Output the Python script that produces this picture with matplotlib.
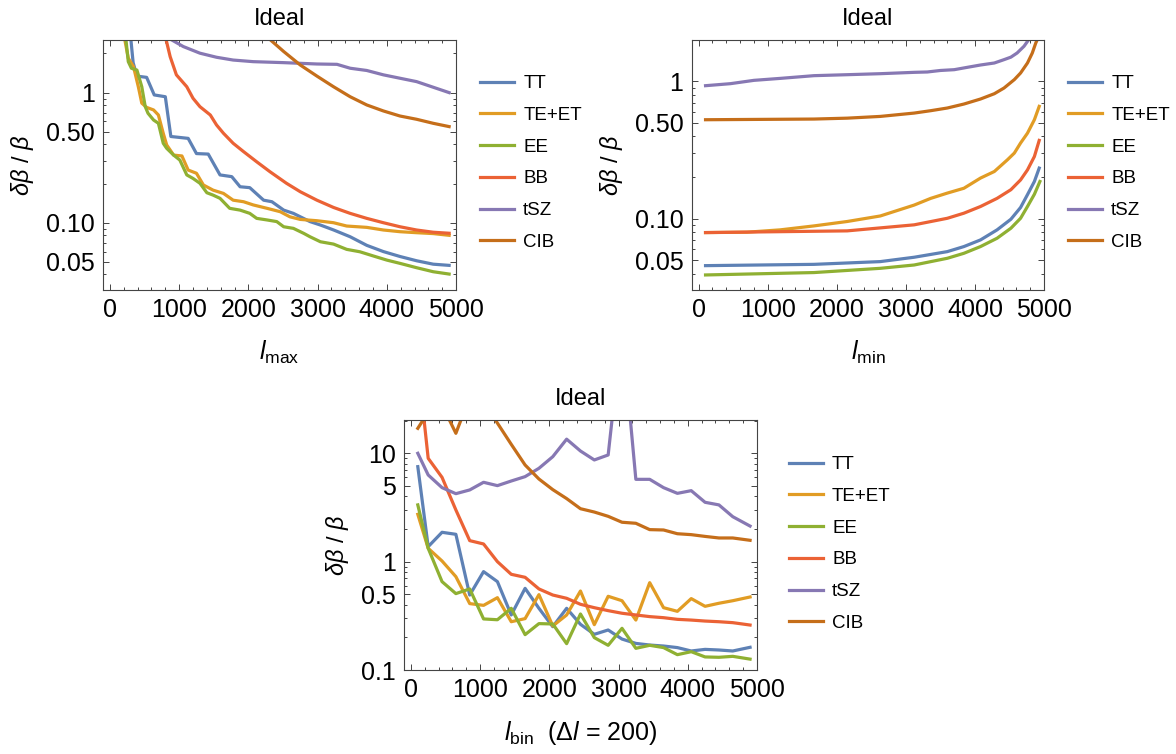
import matplotlib
matplotlib.use('Agg')
from matplotlib import pyplot as plt
from matplotlib.ticker import FixedLocator, NullFormatter

plt.rcParams['font.family'] = ['Liberation Sans', 'DejaVu Sans']
plt.rcParams['mathtext.fontset'] = 'custom'
plt.rcParams['mathtext.rm'] = 'Liberation Sans'
plt.rcParams['mathtext.it'] = 'Liberation Sans:italic'

labels = ['TT', 'TE+ET', 'EE', 'BB', 'tSZ', 'CIB']
colors = ['#5E81B5', '#E19C24', '#8FB032', '#EB6235', '#8778B3', '#C56E1A']

# ---- panel 1: varying l_max ----
tt_lmax_x = [290, 335, 390, 530, 640, 800, 880, 1130, 1250, 1420, 1590, 1760, 1880, 2020, 2220, 2340,
             2510, 2650, 2890, 3040, 3230, 3470, 3710, 3950, 4190, 4430, 4670, 4900]
tt_lmax_y = [3.0, 1.7, 1.34, 1.31, 0.96, 0.93, 0.46, 0.445, 0.34, 0.337, 0.233, 0.226, 0.189, 0.186, 0.149,
             0.145, 0.125, 0.118, 0.102, 0.096, 0.088, 0.078, 0.067, 0.060, 0.055, 0.051, 0.048, 0.047]
te_lmax_x = [195, 265, 340, 410, 460, 530, 630, 700, 770, 820, 920, 1040, 1130, 1250, 1350, 1490, 1640,
             1780, 1930, 2070, 2270, 2460, 2600, 2750, 2990, 3230, 3420, 3710, 3950, 4190, 4430, 4670, 4900]
te_lmax_y = [2.9, 1.84, 1.585, 1.11, 0.83, 0.77, 0.736, 0.673, 0.487, 0.396, 0.331, 0.326, 0.254, 0.240,
             0.195, 0.178, 0.168, 0.149, 0.145, 0.137, 0.129, 0.1215, 0.111, 0.106, 0.1036, 0.100, 0.0943,
             0.0921, 0.0879, 0.0853, 0.0838, 0.0825, 0.080]
ee_lmax_x = [220, 265, 310, 390, 460, 510, 550, 630, 700, 770, 820, 920, 1010, 1110, 1200, 1300, 1400,
             1490, 1590, 1730, 1880, 2020, 2120, 2270, 2410, 2510, 2650, 2800, 2890, 3040, 3230, 3420,
             3610, 3810, 4000, 4190, 4430, 4670, 4900]
ee_lmax_y = [2.9, 1.73, 1.54, 1.49, 1.11, 0.78, 0.694, 0.616, 0.581, 0.408, 0.373, 0.331, 0.303, 0.233,
             0.219, 0.201, 0.170, 0.163, 0.154, 0.129, 0.125, 0.118, 0.108, 0.105, 0.102, 0.0931, 0.0905,
             0.0828, 0.078, 0.0714, 0.0685, 0.0624, 0.0598, 0.0554, 0.0516, 0.0487, 0.0451, 0.042, 0.0403]
bb_lmax_x = [800, 870, 960, 1110, 1200, 1300, 1450, 1540, 1640, 1780, 1930, 2120, 2310, 2550, 2750, 2990,
             3230, 3470, 3710, 3950, 4190, 4430, 4670, 4900]
bb_lmax_y = [2.7, 1.89, 1.37, 1.11, 0.905, 0.78, 0.673, 0.564, 0.487, 0.408, 0.352, 0.294, 0.247, 0.201,
             0.173, 0.149, 0.131, 0.118, 0.108, 0.100, 0.0931, 0.0879, 0.0845, 0.083]
tsz_lmax_x = [860, 1060, 1300, 1540, 1780, 2070, 2510, 2990, 3280, 3470, 3710, 3950, 4190, 4430, 4670, 4900]
tsz_lmax_y = [2.6, 2.26, 2.01, 1.87, 1.78, 1.73, 1.70, 1.66, 1.65, 1.54, 1.48, 1.37, 1.29, 1.215, 1.10, 1.0]
cib_lmax_x = [2280, 2510, 2750, 2990, 3230, 3470, 3710, 3950, 4190, 4430, 4670, 4900]
cib_lmax_y = [2.65, 2.07, 1.63, 1.34, 1.11, 0.93, 0.804, 0.723, 0.661, 0.624, 0.581, 0.548]

# ---- panel 2: varying l_min ----
tt_lmin_x = [100, 1670, 2630, 3120, 3600, 3840, 4080, 4320, 4520, 4660, 4760, 4860, 4930]
tt_lmin_y = [0.0457, 0.0467, 0.0489, 0.0526, 0.0578, 0.0629, 0.0703, 0.0832, 0.0994, 0.121, 0.150, 0.187, 0.234]
te_lmin_x = [100, 700, 1180, 1670, 2150, 2630, 3120, 3360, 3600, 3840, 4080, 4280, 4470, 4570, 4660, 4760,
             4860, 4930]
te_lmin_y = [0.0795, 0.080, 0.0832, 0.0889, 0.0957, 0.105, 0.126, 0.141, 0.154, 0.167, 0.198, 0.221, 0.269,
             0.301, 0.356, 0.42, 0.526, 0.658]
ee_lmin_x = [100, 1670, 2630, 3120, 3600, 3840, 4080, 4320, 4520, 4660, 4760, 4860, 4940]
ee_lmin_y = [0.0391, 0.0407, 0.0437, 0.0462, 0.0517, 0.0562, 0.0629, 0.0723, 0.0855, 0.101, 0.123, 0.151, 0.187]
bb_lmin_x = [100, 2150, 3120, 3600, 3840, 4080, 4320, 4520, 4660, 4760, 4860, 4930]
bb_lmin_y = [0.0795, 0.0818, 0.0905, 0.101, 0.110, 0.123, 0.141, 0.163, 0.192, 0.227, 0.284, 0.372]
tsz_lmin_x = [100, 460, 800, 1180, 1670, 2150, 2630, 3120, 3310, 3500, 3700, 3890, 4080, 4280, 4420, 4520,
              4610, 4710, 4790]
tsz_lmin_y = [0.93, 0.962, 1.017, 1.051, 1.10, 1.118, 1.137, 1.163, 1.17, 1.20, 1.216, 1.265, 1.315, 1.36,
              1.438, 1.50, 1.608, 1.80, 2.05]
cib_lmin_x = [100, 1670, 2150, 2630, 3120, 3360, 3600, 3840, 4080, 4280, 4420, 4570, 4660, 4760, 4830, 4880, 4910]
cib_lmin_y = [0.526, 0.532, 0.54, 0.556, 0.588, 0.612, 0.64, 0.684, 0.744, 0.813, 0.894, 1.03, 1.15, 1.36,
              1.608, 1.90, 2.05]

# ---- panel 3: binned, delta l = 200 ----
l_bin = [100, 250, 450, 650, 850, 1050, 1250, 1450, 1650, 1850, 2050, 2250, 2450, 2650, 2850, 3050,
         3250, 3450, 3650, 3850, 4050, 4250, 4450, 4650, 4900]
tt_bin = [7.53, 1.375, 1.866, 1.788, 0.492, 0.809, 0.654, 0.322, 0.567, 0.371, 0.251, 0.371, 0.264,
          0.2135, 0.234, 0.193, 0.176, 0.170, 0.1665, 0.161, 0.1498, 0.155, 0.153, 0.1498, 0.162]
te_bin = [2.735, 1.328, 1.014, 0.727, 0.41, 0.395, 0.465, 0.279, 0.298, 0.496, 0.255, 0.322, 0.536,
          0.262, 0.479, 0.436, 0.289, 0.64, 0.376, 0.348, 0.456, 0.387, 0.413, 0.436, 0.472]
ee_bin = [3.34, 1.328, 0.654, 0.507, 0.56, 0.296, 0.291, 0.371, 0.212, 0.268, 0.266, 0.175, 0.329,
          0.199, 0.169, 0.2425, 0.1585, 0.169, 0.161, 0.1385, 0.1476, 0.132, 0.131, 0.1337, 0.126]
bb_bin = [70, 8.99, 6.0, 3.0, 1.563, 1.456, 1.0, 0.764, 0.717, 0.56, 0.492, 0.459, 0.404, 0.376, 0.353,
          0.334, 0.322, 0.311, 0.304, 0.2935, 0.289, 0.283, 0.279, 0.2735, 0.26]
tsz_bin = [10.0, 6.31, 4.82, 4.24, 4.59, 5.40, 5.03, 5.55, 6.09, 7.27, 9.31, 13.5, 10.5, 8.68, 9.65, 140,
           5.75, 5.75, 4.82, 4.27, 4.52, 3.53, 3.34, 2.60, 2.13]
cib_bin = [17.0, 24, 28, 15.3, 33, 30, 19.0, 12.1, 7.8, 5.79, 4.62, 3.82, 3.08, 2.87, 2.62, 2.31, 2.26,
           1.975, 1.96, 1.81, 1.775, 1.71, 1.654, 1.654, 1.574]

panels = [
    dict(rect=[0.0876, 0.6154, 0.3002, 0.3316], ylim=(0.0304, 2.54),
         major=[0.05, 0.1, 0.5, 1], majlab=['0.05', '0.10', '0.50', '1'],
         minor=[0.03, 0.04, 0.06, 0.07, 0.08, 0.09, 0.2, 0.3, 0.4, 0.6, 0.7, 0.8, 0.9, 2],
         xlabel=r'$\mathit{l}_{\mathrm{max}}$',
         series=[(tt_lmax_x, tt_lmax_y), (te_lmax_x, te_lmax_y), (ee_lmax_x, ee_lmax_y),
                 (bb_lmax_x, bb_lmax_y), (tsz_lmax_x, tsz_lmax_y), (cib_lmax_x, cib_lmax_y)],
         leg=(480, 75)),
    dict(rect=[0.5882, 0.6154, 0.2996, 0.3316], ylim=(0.0304, 2.0),
         major=[0.05, 0.1, 0.5, 1], majlab=['0.05', '0.10', '0.50', '1'],
         minor=[0.03, 0.04, 0.06, 0.07, 0.08, 0.09, 0.2, 0.3, 0.4, 0.6, 0.7, 0.8, 0.9],
         xlabel=r'$\mathit{l}_{\mathrm{min}}$',
         series=[(tt_lmin_x, tt_lmin_y), (te_lmin_x, te_lmin_y), (ee_lmin_x, ee_lmin_y),
                 (bb_lmin_x, bb_lmin_y), (tsz_lmin_x, tsz_lmin_y), (cib_lmin_x, cib_lmin_y)],
         leg=(1068, 75)),
    dict(rect=[0.3435, 0.1114, 0.3002, 0.3316], ylim=(0.1, 20.3),
         major=[0.1, 0.5, 1, 5, 10], majlab=['0.1', '0.5', '1', '5', '10'],
         minor=[0.2, 0.3, 0.4, 0.6, 0.7, 0.8, 0.9, 2, 3, 4, 6, 7, 8, 9, 20],
         xlabel=r'$\mathit{l}_{\mathrm{bin}}$  ($\Delta\mathit{l}$ = 200)',
         series=[(l_bin, tt_bin), (l_bin, te_bin), (l_bin, ee_bin),
                 (l_bin, bb_bin), (l_bin, tsz_bin), (l_bin, cib_bin)],
         leg=(789, 456)),
]

W, H = 1176, 754
fig = plt.figure(figsize=(W / 100, H / 100), dpi=100)

for p in panels:
    ax = fig.add_axes(p['rect'])
    lines = []
    for (x, y), lab, c in zip(p['series'], labels, colors):
        ln, = ax.plot(x, y, color=c, lw=2.3, label=lab, solid_joinstyle='round')
        lines.append(ln)
    ax.set_yscale('log')
    ax.set_xlim(-100, 5000)
    ax.set_ylim(*p['ylim'])
    ax.set_xticks([0, 1000, 2000, 3000, 4000, 5000])
    ax.set_xticklabels(['0', '1000', '2000', '3000', '4000', '5000'])
    ax.xaxis.set_minor_locator(FixedLocator(list(range(200, 5000, 200))))
    ax.yaxis.set_major_locator(FixedLocator(p['major']))
    ax.set_yticklabels(p['majlab'])
    ax.yaxis.set_minor_locator(FixedLocator(p['minor']))
    ax.yaxis.set_minor_formatter(NullFormatter())
    ax.tick_params(which='both', direction='in', top=True, right=True, color='#444444', width=0.7)
    ax.tick_params(which='major', length=4.5, labelsize=18, pad=6)
    ax.tick_params(which='minor', length=2.5)
    for s in ax.spines.values():
        s.set_color('#444444')
        s.set_linewidth(0.8)
    ax.set_title('Ideal', fontsize=17, pad=11)
    ax.set_xlabel(p['xlabel'], fontsize=18, labelpad=12)
    ax.set_ylabel(r'$\delta\beta$ / $\beta$', fontsize=17, labelpad=7)
    lx, ly = p['leg']
    ax.legend(handles=lines, loc='upper left', bbox_to_anchor=(lx / W, 1 - ly / H),
              bbox_transform=fig.transFigure, frameon=False, fontsize=13.5,
              handlelength=1.8, handletextpad=0.5, labelspacing=0.78,
              borderpad=0, borderaxespad=0)

fig.savefig('out.png', dpi=100)
